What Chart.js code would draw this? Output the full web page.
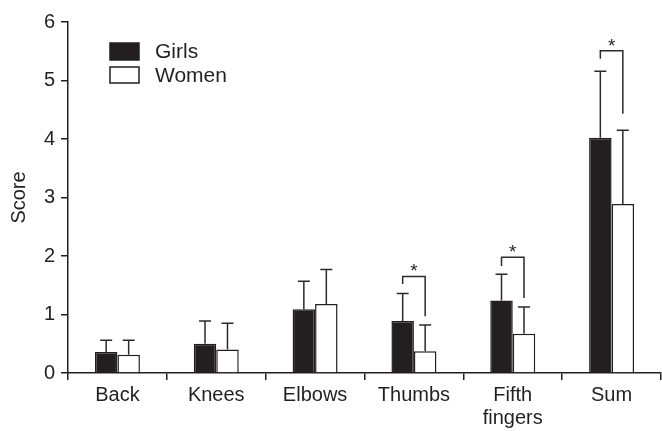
<!DOCTYPE html>
<html>
<head>
<meta charset="utf-8">
<script src="https://cdn.jsdelivr.net/npm/chart.js@4/dist/chart.umd.min.js"></script>
<style>
html,body{margin:0;padding:0;background:#fff;}
#wrap{width:662px;height:431px;position:relative;}
</style>
</head>
<body>
<div id="wrap"><canvas id="c"></canvas></div>
<script>
const categories = ['Back', 'Knees', 'Elbows', 'Thumbs', ['Fifth', 'fingers'], 'Sum'];
const girls = [0.36, 0.50, 1.09, 0.89, 1.24, 4.02];
const women = [0.31, 0.40, 1.18, 0.37, 0.67, 2.89];
const girlsSD = [0.20, 0.39, 0.48, 0.47, 0.45, 1.14];
const womenSD = [0.25, 0.45, 0.59, 0.45, 0.46, 1.26];
const yTicks = [0, 1, 2, 3, 4, 5, 6];
const bracketCats = [3, 4, 5];
const bracketTop = [1.65, 1.98, 5.51];
const bracketLeftEnd = [1.52, 1.83, 5.37];
const bracketRightEnd = [0.97, 1.28, 4.43];
const bracketMark = '*';

const INK = '#231f20';
const FONT = '"Liberation Sans", Arial, Helvetica, sans-serif';

const overlay = {
  id: 'overlay',
  afterDatasetsDraw(chart) {
    const ctx = chart.ctx;
    const y = chart.scales.y;
    const m0 = chart.getDatasetMeta(0).data;
    const m1 = chart.getDatasetMeta(1).data;
    ctx.save();
    ctx.strokeStyle = '#2b2b2b';
    ctx.lineWidth = 1.5;
    const cap = 6;
    function err(x, v, sd) {
      const y0 = y.getPixelForValue(v);
      const y1 = y.getPixelForValue(v + sd);
      ctx.beginPath();
      ctx.moveTo(x, y0); ctx.lineTo(x, y1);
      ctx.moveTo(x - cap, y1); ctx.lineTo(x + cap, y1);
      ctx.stroke();
    }
    categories.forEach((c, i) => {
      err(m0[i].x, girls[i], girlsSD[i]);
      err(m1[i].x, women[i], womenSD[i]);
    });
    // brackets
    bracketCats.forEach((ci, k) => {
      const xl = m0[ci].x, xr = m1[ci].x;
      const yt = y.getPixelForValue(bracketTop[k]);
      ctx.beginPath();
      ctx.moveTo(xl, y.getPixelForValue(bracketLeftEnd[k]));
      ctx.lineTo(xl, yt);
      ctx.lineTo(xr, yt);
      ctx.lineTo(xr, y.getPixelForValue(bracketRightEnd[k]));
      ctx.stroke();
      ctx.fillStyle = INK;
      ctx.font = '19px ' + FONT;
      ctx.textAlign = 'center';
      ctx.textBaseline = 'alphabetic';
      ctx.fillText(bracketMark, (xl + xr) / 2, yt + 1);
    });
    // legend
    const lx = 110, lw = 29;
    const items = [
      {label: chart.data.datasets[0].label, fill: INK, top: 43, h: 17},
      {label: chart.data.datasets[1].label, fill: '#ffffff', top: 67, h: 16}
    ];
    items.forEach(it => {
      ctx.fillStyle = it.fill;
      ctx.fillRect(lx, it.top, lw, it.h);
      ctx.strokeStyle = INK;
      ctx.lineWidth = 1.5;
      ctx.strokeRect(lx, it.top, lw, it.h);
      ctx.fillStyle = INK;
      ctx.font = '21px ' + FONT;
      ctx.textAlign = 'left';
      ctx.textBaseline = 'middle';
      ctx.fillText(it.label, 155, it.top + it.h / 2 + 1);
    });
    ctx.restore();
  }
};

new Chart(document.getElementById('c'), {
  type: 'bar',
  data: {
    labels: categories,
    datasets: [
      {label: 'Girls', data: girls, backgroundColor: INK, borderColor: INK, borderWidth: 1.5},
      {label: 'Women', data: women, backgroundColor: '#ffffff', borderColor: INK, borderWidth: 1.5}
    ]
  },
  options: {
    responsive: true,
    maintainAspectRatio: false,
    animation: false,
    devicePixelRatio: 1,
    layout: {padding: {top: 22, right: 1, left: 0, bottom: 0}},
    datasets: {bar: {categoryPercentage: 0.455, barPercentage: 1.0}},
    plugins: {legend: {display: false}, tooltip: {enabled: false}},
    scales: {
      x: {
        grid: {display: true, drawOnChartArea: false, drawTicks: true, tickLength: 7, color: INK, lineWidth: 1.5, offset: true},
        border: {display: true, color: INK, width: 1.5},
        ticks: {color: INK, font: {family: FONT, size: 20, lineHeight: 1.15}, padding: 4, maxRotation: 0, autoSkip: false},
        afterFit(s) { s.height = 58; }
      },
      y: {
        min: 0, max: 6,
        afterBuildTicks(s) { s.ticks = yTicks.map(v => ({value: v})); },
        grid: {display: true, drawOnChartArea: false, drawTicks: true, tickLength: 7, color: INK, lineWidth: 1.5},
        border: {display: true, color: INK, width: 1.5},
        ticks: {color: INK, font: {family: FONT, size: 20}, padding: 6},
        title: {display: true, text: 'Score', color: INK, font: {family: FONT, size: 20}, padding: {top: 7, bottom: 0}},
        afterFit(s) { s.width = 68; }
      }
    }
  },
  plugins: [overlay]
});
</script>
</body>
</html>
